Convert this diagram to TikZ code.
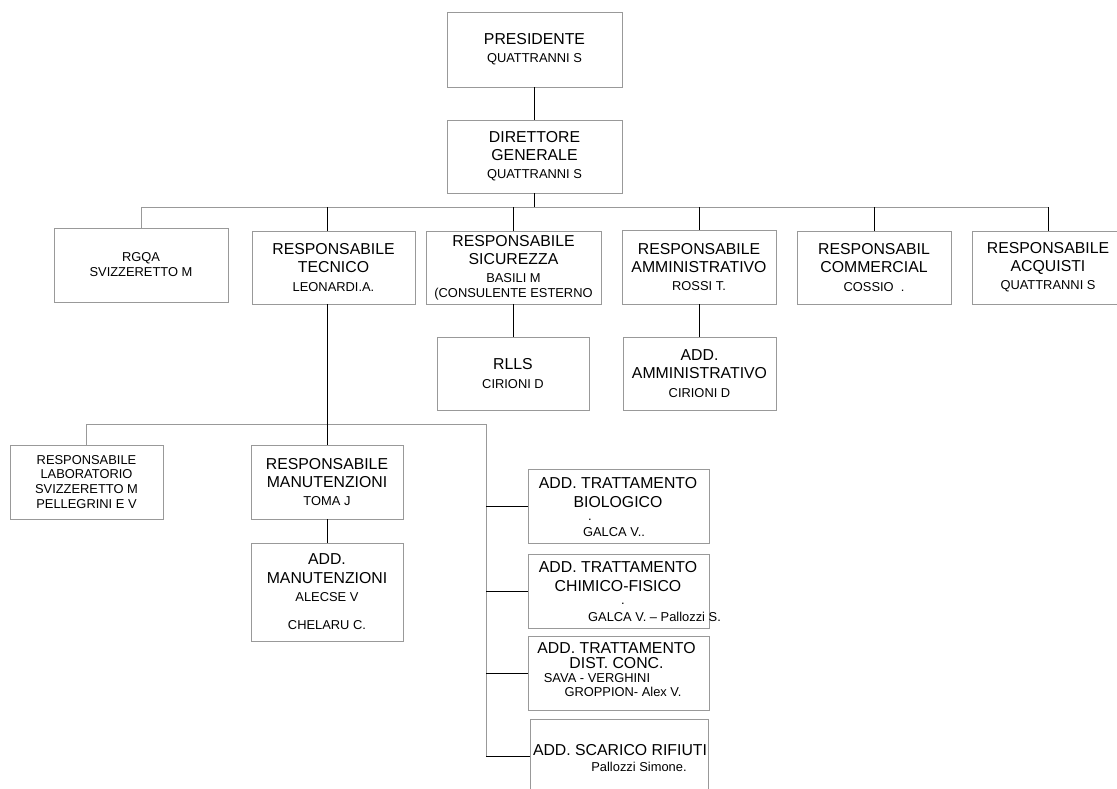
\documentclass[tikz,border=0pt]{standalone}
\usepackage{fontspec}
\setmainfont{Liberation Sans}
\newcommand{\nm}[1]{{\fontsize{11}{12.75}\selectfont #1}}
\begin{document}
\begin{tikzpicture}[x=0.03cm,y=-0.03cm,
  box/.style={draw=black!40,line width=0.7pt,align=center,inner sep=0pt,
    font=\fontsize{13.5}{15.5}\selectfont},
  pbox/.style={box,font=\fontsize{11}{12.75}\selectfont},
  sz/.style 2 args={minimum width=#1*0.03cm,minimum height=#2*0.03cm},
  link/.style={line width=0.7pt},
  bus/.style={draw=black!40,line width=0.7pt},
  txt/.style={align=center,inner sep=0pt,font=\fontsize{13.5}{16.2}\selectfont},
  ntxt/.style={inner sep=0pt,font=\fontsize{11}{12.75}\selectfont}]
\clip (0,0) rectangle (1117,789);

% vertici
\node[box,sz={175}{75}] (pres) at (534.5,49.5) {PRESIDENTE\\\nm{QUATTRANNI S}};
\node[box,sz={175}{73}] (dir) at (534.5,156.5) {DIRETTORE\\GENERALE\\\nm{QUATTRANNI S}};

% responsabili
\node[pbox,sz={174}{74}] (rgqa) at (141,265) {RGQA\\SVIZZERETTO M};
\node[box,sz={163}{73}] (tec) at (333.5,267.5) {RESPONSABILE\\TECNICO\\\nm{LEONARDI.A.}};
\node[box,sz={175}{73}] (sic) at (513.5,267.5) {RESPONSABILE\\SICUREZZA\\\nm{BASILI M}\\[-2.7pt]\nm{(CONSULENTE ESTERNO}};
\node[box,sz={154}{74}] (amm) at (699,267) {RESPONSABILE\\AMMINISTRATIVO\\\nm{ROSSI T.}};
\node[box,sz={154}{73}] (com) at (874,267.5) {RESPONSABIL\\COMMERCIAL\\\nm{COSSIO\ \ .}};
\node[box,sz={152}{73}] (acq) at (1048,267.5) {RESPONSABILE\\ACQUISTI\\\nm{QUATTRANNI S}};

\node[box,sz={152}{73}] (rlls) at (513,373.5) {RLLS\\\nm{CIRIONI D}};
\node[box,sz={153}{73}] (addamm) at (699.5,373.5) {ADD.\\AMMINISTRATIVO\\\nm{CIRIONI D}};

% area tecnica
\node[pbox,sz={153}{74}] (lab) at (86.5,482) {RESPONSABILE\\LABORATORIO\\SVIZZERETTO M\\PELLEGRINI E V};
\node[box,sz={152}{74}] (man) at (327,482) {RESPONSABILE\\MANUTENZIONI\\\nm{TOMA J}};
\node[box,sz={152}{98}] (addman) at (327,592) {ADD.\\MANUTENZIONI\\\nm{ALECSE V}\\[9pt]\nm{CHELARU C.}};

\node[box,sz={181}{74}] (bio) at (618.5,506) {};
\node[box,sz={181}{74}] (chim) at (618.5,591) {};
\node[box,sz={181}{74}] (dist) at (618.5,673) {};
\node[box,sz={178}{74}] (scar) at (619,756) {};

\node[txt] (bio-t) at (618,492.5) {ADD. TRATTAMENTO\\BIOLOGICO};
\node[ntxt] (bio-p) at (590,520) {.};
\node[ntxt] (bio-n) at (614,532) {GALCA V..};
\node[txt] (chim-t) at (618,576.5) {ADD. TRATTAMENTO\\CHIMICO-FISICO};
\node[ntxt] (chim-p) at (623,604) {.};
\node[ntxt] (chim-n) at (654.5,617) {GALCA V. -- Pallozzi S.};
\node[txt] (dist-t) at (616.5,655.5) {ADD. TRATTAMENTO\\[-3.5pt]DIST. CONC.};
\node[ntxt] (dist-n1) at (597,678) {SAVA - VERGHINI};
\node[ntxt] (dist-n2) at (623,692) {GROPPION- Alex V.};
\node[txt] (scar-t) at (620,750) {ADD. SCARICO RIFIUTI};
\node[ntxt] (scar-n) at (639,767) {Pallozzi Simone.};

% collegamenti
\coordinate (bus1) at (0,207);
\coordinate (bus2) at (486,424);
\draw[link] (pres.south) -- (dir.north);
\draw[bus] (rgqa.north) -- (rgqa.north |- bus1) -- (bus1 -| acq.north);
\draw[link] (dir.south) -- (dir.south |- bus1);
\draw[link] (man.north |- bus1) -- (man.north |- tec.north);
\foreach \r in {sic,amm,com,acq}
  \draw[link] (\r.north |- bus1) -- (\r.north);
\draw[link] (sic.south) -- (sic.south |- rlls.north);
\draw[link] (amm.south) -- (amm.south |- addamm.north);

\draw[bus] (lab.north) |- (bus2) -- (bus2 |- scar.west);
\draw[link] (man.north |- tec.south) -- (man.north);
\draw[link] (man.south) -- (addman.north);
\foreach \b in {bio,chim,dist,scar}
  \draw[link] (\b.west -| bus2) -- (\b.west);
\end{tikzpicture}
\end{document}
